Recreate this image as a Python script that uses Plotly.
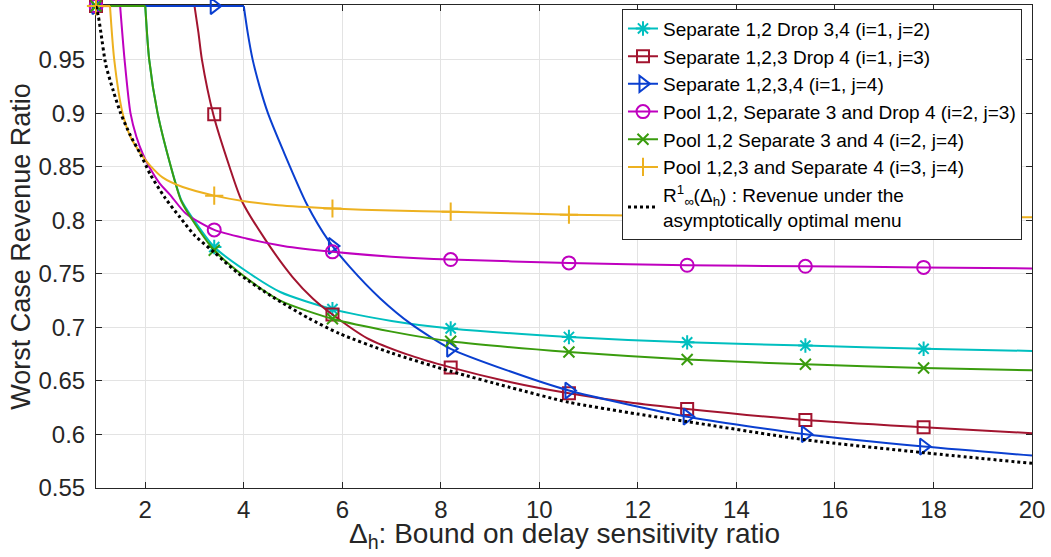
import plotly.graph_objects as go

# ---------------- data ----------------
x_marks = [1, 3.4, 5.8, 8.2, 10.6, 13, 15.4, 17.8]

# Separate 1,2 Drop 3,4 (i=1, j=2)  - cyan
cyan_x = [1, 2.0, 2.08, 2.25, 2.52, 2.73, 2.96, 3.4, 4.0, 4.74, 5.8, 7.0, 8.2, 10.6, 13, 15.4, 17.8, 20]
cyan_y = [1, 1, 0.95, 0.90, 0.85, 0.819, 0.802, 0.775, 0.754, 0.733, 0.717, 0.706, 0.699, 0.691, 0.686, 0.683, 0.680, 0.678]
cyan_m = [1, 0.775, 0.717, 0.699, 0.691, 0.686, 0.683, 0.680]

# Separate 1,2,3 Drop 4 (i=1, j=3) - dark red
red_x = [1, 3.0, 3.08, 3.15, 3.38, 3.71, 3.96, 4.45, 4.99, 5.4, 5.8, 6.5, 7.3, 8.2, 9.4, 10.6, 11.8, 13, 15.4, 17.8, 20]
red_y = [1, 1, 0.975, 0.95, 0.899, 0.85, 0.818, 0.781, 0.747, 0.727, 0.712, 0.690, 0.675, 0.6626, 0.649, 0.6384, 0.630, 0.6238, 0.6135, 0.6067, 0.6012]
red_m = [1, 0.899, 0.712, 0.6626, 0.6384, 0.6238, 0.6135, 0.6067]

# Separate 1,2,3,4 (i=1, j=4) - blue
blue_x = [1, 4.0, 4.08, 4.18, 4.32, 4.49, 4.8, 5.28, 5.72, 6.16, 6.77, 7.4, 8.2, 9.4, 10.6, 11.8, 13, 15.4, 17.8, 20]
blue_y = [1, 1, 0.975, 0.95, 0.925, 0.90, 0.865, 0.815, 0.781, 0.756, 0.727, 0.703, 0.680, 0.659, 0.641, 0.628, 0.6166, 0.6002, 0.5887, 0.5803]
blue_m = [1, 1, 0.776, 0.680, 0.641, 0.6166, 0.6002, 0.5887]

# Pool 1,2, Separate 3 and Drop 4 (i=2, j=3) - magenta
mag_x = [1, 1.49, 1.58, 1.70, 1.82, 1.95, 2.08, 2.3, 2.5, 2.83, 3.4, 4.05, 4.8, 5.8, 7, 8.2, 10.6, 13, 15.4, 17.8, 20]
mag_y = [1, 1, 0.95, 0.90, 0.878, 0.862, 0.85, 0.834, 0.824, 0.806, 0.791, 0.783, 0.776, 0.7705, 0.766, 0.7633, 0.7602, 0.758, 0.757, 0.756, 0.755]
mag_m = [1, 0.791, 0.7705, 0.7633, 0.7602, 0.758, 0.757, 0.756]

# Pool 1,2 Separate 3 and 4 (i=2, j=4) - green
green_x = [1, 2.0, 2.08, 2.25, 2.52, 2.73, 2.96, 3.4, 4.0, 4.74, 5.8, 7.0, 8.2, 10.6, 13, 15.4, 17.8, 20]
green_y = [1, 1, 0.95, 0.90, 0.85, 0.818, 0.80, 0.772, 0.748, 0.725, 0.708, 0.696, 0.687, 0.677, 0.670, 0.6655, 0.662, 0.660]
green_m = [1, 0.772, 0.708, 0.687, 0.677, 0.670, 0.6655, 0.662]

# Pool 1,2,3 and Separate 4 (i=3, j=4) - yellow
yel_x = [1, 1.284, 1.37, 1.54, 1.7, 1.91, 2.1, 2.35, 2.76, 3.4, 3.98, 4.7, 5.8, 7, 8.2, 10.6, 13, 15.4, 17.8, 20]
yel_y = [1, 1, 0.95, 0.90, 0.878, 0.862, 0.851, 0.840, 0.831, 0.823, 0.818, 0.814, 0.811, 0.809, 0.808, 0.8052, 0.804, 0.8035, 0.803, 0.8027]
yel_m = [1, 0.823, 0.811, 0.808, 0.8052, 0.804, 0.8035, 0.803]

# R^1_inf(Delta_h) - black dotted
blk_x = [1, 1.05, 1.1, 1.2, 1.35, 1.5, 1.7, 1.9, 2.1, 2.4, 2.7, 3.0, 3.4, 3.9, 4.6, 5.3, 5.95, 7, 8.2, 9.4, 10.6, 12, 13, 15.4, 17.8, 20]
blk_y = [1, 0.99, 0.975, 0.945, 0.921, 0.90, 0.879, 0.862, 0.843, 0.821, 0.803, 0.786, 0.770, 0.750, 0.728, 0.709, 0.694, 0.676, 0.659, 0.644, 0.630, 0.619, 0.612, 0.595, 0.583, 0.573]

legend_names = [
    "Separate 1,2 Drop 3,4 (i=1, j=2)",
    "Separate 1,2,3 Drop 4 (i=1, j=3)",
    "Separate 1,2,3,4 (i=1, j=4)",
    "Pool 1,2, Separate 3 and Drop 4 (i=2, j=3)",
    "Pool 1,2 Separate 3 and 4 (i=2, j=4)",
    "Pool 1,2,3 and Separate 4 (i=3, j=4)",
    "R<sup>1</sup><sub>∞</sub>(Δ<sub>h</sub>) : Revenue under the<br>asymptotically optimal menu",
]

x_title = "Δ<sub>h</sub>: Bound on delay sensitivity ratio"
y_title = "Worst Case Revenue Ratio"

x_ticks = [2, 4, 6, 8, 10, 12, 14, 16, 18, 20]
y_ticks = [0.55, 0.6, 0.65, 0.7, 0.75, 0.8, 0.85, 0.9, 0.95]
y_tick_text = ["0.55", "0.6", "0.65", "0.7", "0.75", "0.8", "0.85", "0.9", "0.95"]

# ---------------- figure ----------------
series = [
    (cyan_x, cyan_y, cyan_m, "#00BFBF", "asterisk-open", 12),
    (red_x, red_y, red_m, "#A2142F", "square-open", 12),
    (blue_x, blue_y, blue_m, "#0A3FD0", "triangle-right-open", 14),
    (mag_x, mag_y, mag_m, "#BF00BF", "circle-open", 13),
    (green_x, green_y, green_m, "#3A9C0E", "x-thin-open", 11),
    (yel_x, yel_y, yel_m, "#EDB120", "cross-thin-open", 13),
]


def split_flat(xs, ys):
    """Split a series into its flat (y == 1) start and its curved part."""
    k = next(i for i, v in enumerate(ys) if v < 1)
    return (xs[:k], ys[:k]), (xs[k - 1:], ys[k - 1:])


fig = go.Figure()
for (xs, ys, ms, col, sym, sz), name in zip(series, legend_names):
    (fx, fy), (cx, cy) = split_flat(xs, ys)
    fig.add_trace(go.Scatter(x=fx, y=fy, mode="lines", showlegend=False,
                             line=dict(color=col, width=2), hoverinfo="skip"))
    fig.add_trace(go.Scatter(x=cx, y=cy, mode="lines", showlegend=False,
                             line=dict(color=col, width=2, shape="spline", smoothing=0.7),
                             hoverinfo="skip"))
    fig.add_trace(go.Scatter(x=x_marks, y=ms, mode="markers", showlegend=False,
                             cliponaxis=False,
                             marker=dict(symbol=sym, size=sz, color=col,
                                         line=dict(color=col, width=2)),
                             hoverinfo="skip"))

fig.add_trace(go.Scatter(x=blk_x, y=blk_y, mode="lines", showlegend=False,
                         line=dict(color="black", width=3, dash="dot", shape="spline", smoothing=0.7),
                         hoverinfo="skip"))

# legend entries
for (xs, ys, ms, col, sym, sz), name in zip(series, legend_names):
    fig.add_trace(go.Scatter(x=[None], y=[None], mode="lines+markers", name=name,
                             line=dict(color=col, width=2),
                             marker=dict(symbol=sym, size=sz, color=col,
                                         line=dict(color=col, width=2))))
fig.add_trace(go.Scatter(x=[None], y=[None], mode="lines", name=legend_names[6],
                         line=dict(color="black", width=3, dash="dot")))

axis_col = "#262626"
fig.update_layout(
    width=1051, height=557,
    margin=dict(l=96, r=19, t=5, b=69),
    paper_bgcolor="white", plot_bgcolor="white",
    font=dict(family="Liberation Sans, Arial, sans-serif", color=axis_col),
    legend=dict(x=0.9893, y=0.9925, xanchor="right", yanchor="top",
                bgcolor="white", bordercolor=axis_col, borderwidth=1,
                font=dict(size=19, family="Liberation Sans, Arial, sans-serif", color="black"),
                itemwidth=30, tracegroupgap=0),
    xaxis=dict(range=[1, 20], tickvals=x_ticks, ticks="inside", ticklen=6,
               tickcolor=axis_col, showline=True, linecolor=axis_col, linewidth=1,
               mirror="ticks", showgrid=True, gridcolor="#e3e3e3", gridwidth=1,
               zeroline=False, tickfont=dict(size=24, color=axis_col),
               ticklabelstandoff=0, layer="below traces"),
    yaxis=dict(range=[0.55, 1.001], tickvals=y_ticks, ticktext=y_tick_text,
               ticks="inside", ticklen=6,
               tickcolor=axis_col, showline=True, linecolor=axis_col, linewidth=1,
               mirror="ticks", showgrid=True, gridcolor="#e3e3e3", gridwidth=1,
               zeroline=False, tickfont=dict(size=24, color=axis_col),
               ticklabelstandoff=5, layer="below traces",
               title=dict(text=y_title, font=dict(size=27, color=axis_col), standoff=0)),
    annotations=[dict(text=x_title, xref="paper", yref="paper", x=0.5, y=-0.057,
                      xanchor="center", yanchor="top", showarrow=False,
                      font=dict(size=28, color=axis_col))],
)

fig.write_html("out.html")
